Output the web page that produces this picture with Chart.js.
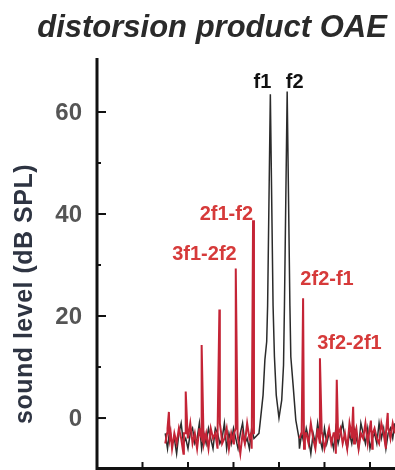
<!DOCTYPE html>
<html>
<head>
<meta charset="utf-8">
<script src="https://cdn.jsdelivr.net/npm/chart.js@4"></script>
<style>
  html, body { margin: 0; padding: 0; background: #fff; }
  canvas { display: block; }
</style>
</head>
<body>
<canvas id="oae" width="395" height="470"></canvas>
<script>
// Spectrum of a distortion product otoacoustic emission (frequency in arbitrary units, level in dB SPL)

const noiseStart = 1.50;
const noiseStep  = 0.05;

// noise floor of the DP recording (null = no floor drawn under the primaries)
const redNoise = [
  -5, -2, -4, -6, -3, -5, -2, -4, -7, -3,
  -4, -1, -5, -3, -6, -2, -4, -5, -3, -6,
  -2, -4, -3, -6, -1, -5, -4, -2, -6, -3,
  -5, -2, -4, -7, -3, -5, -1, -4, -6, -3,
  null, null, null, null, null, null, null, null, null, null,
  null, null, null, null, null, null, null, null, null,
  -4, -2, -6, -3, -5, -1, -4, -6, -2, -5,
  -3, -6, -4, -2, -5, -3, -7, -4, -2, -5,
  -3, -6, -1, -4, -5, -2, -6, -3, -4, -1,
  -5, -3, -6, -2, -4, -5, -1, -3, -6, -2,
  -4, -1, -3
];

// noise floor of the primaries-only recording
const blackNoise = [
  -3, -6, -2, -5, -4, -7, -3, -1, -5, -4,
  -6, -3, -2, -5, -4, -1, -6, -3, -5, -2,
  -4, -6, -2, -3, -5, -4, -1, -6, -3, -5,
  -2, -4, -6, -3, -1, -5, -4, -6, -2, -4,
  null, null, null, null, null, null, null, null, null, null,
  null, null, null, null, null, null, null, null, null,
  -6, -3, -5, -2, -4, -7, -3, -5, -1, -4,
  -6, -2, -5, -3, -4, -6, -2, -5, -3, -1,
  -4, -6, -3, -5, -2, -4, -6, -1, -3, -5,
  -2, -6, -4, -3, -5, -1, -4, -2, -6, -3,
  -2, -4, -1
];

// distortion products (red spikes)
const dpFreq  = [1.58, 1.95, 2.30, 2.69, 3.05, 3.43, 4.53, 4.90, 5.27, 5.63, 6.02, 6.39];
const dpLevel = [1.2, 5.2, 14.3, 21.3, 29.3, 38.8, 23.5, 11.7, 7.5, 2.2, -0.5, 1.0];
const dpBase  = -3;

// primary tones and the skirts around them
const primaryNames = ['f1', 'f2'];
const primaryFreq  = [3.81, 4.18];
const primaryLevel = [63.5, 64];
const skirtFreq  = [3.56, 3.58, 3.65, 3.69, 3.73, 3.75, 3.87, 3.90, 3.94, 4.00, 4.06, 4.10, 4.12, 4.24, 4.26, 4.31, 4.37, 4.44];
const skirtLevel = [-3, -1.4, 4.5, 11.4, 15, 22, 22, 12, 4.5, 0, 3.5, 10.4, 22, 22, 12, 6.5, -0.4, -4];

const yTickLabels = [0, 20, 40, 60];
const yMinorTicks = [10, 30, 50];
const xTicks = [1, 2, 3, 4, 5, 6];

// text labels next to the peaks: [text, x, y, align, color]
const peakLabels = [
  ['f1',      3.44, 64.8, 'left',  '#111'],
  ['f2',      4.15, 64.8, 'left',  '#111'],
  ['2f1-f2',  3.43, 38.9, 'right', '#d63a3a'],
  ['3f1-2f2', 3.07, 31.0, 'right', '#d63a3a'],
  ['2f2-f1',  4.47, 26.0, 'left',  '#d63a3a'],
  ['3f2-2f1', 4.84, 13.5, 'left',  '#d63a3a']
];

function noisePoints(arr) {
  return arr.map((v, i) => ({ x: +(noiseStart + i * noiseStep).toFixed(3), y: v }));
}

function redTrace() {
  const pts = noisePoints(redNoise);
  dpFreq.forEach((f, i) => {
    pts.push({ x: f - 0.04, y: dpBase });
    pts.push({ x: f, y: dpLevel[i] });
    pts.push({ x: f + 0.04, y: dpBase });
  });
  return pts.sort((a, b) => a.x - b.x);
}

function blackTrace() {
  const pts = noisePoints(blackNoise).filter(p => p.y !== null);
  skirtFreq.forEach((f, i) => pts.push({ x: f, y: skirtLevel[i] }));
  primaryFreq.forEach((f, i) => pts.push({ x: f, y: primaryLevel[i] }));
  return pts.sort((a, b) => a.x - b.x);
}

const axisDecor = {
  id: 'axisDecor',
  afterDraw(chart) {
    const { ctx, chartArea: a, scales: { x, y } } = chart;
    ctx.save();
    ctx.strokeStyle = '#111';
    ctx.lineCap = 'butt';

    // axis lines
    ctx.lineWidth = 3;
    ctx.beginPath();
    ctx.moveTo(a.left, 58);
    ctx.lineTo(a.left, a.bottom + 1.5);
    ctx.lineTo(a.right, a.bottom + 1.5);
    ctx.stroke();

    // inward tick marks
    ctx.lineWidth = 2;
    const tick = (v, len) => {
      const py = y.getPixelForValue(v);
      ctx.beginPath();
      ctx.moveTo(a.left, py);
      ctx.lineTo(a.left + len, py);
      ctx.stroke();
    };
    yTickLabels.forEach(v => tick(v, 9));
    yMinorTicks.forEach(v => tick(v, 4));
    xTicks.forEach(v => {
      const px = x.getPixelForValue(v);
      ctx.beginPath();
      ctx.moveTo(px, a.bottom + 1);
      ctx.lineTo(px, a.bottom - 5);
      ctx.stroke();
    });

    // y tick labels
    ctx.fillStyle = '#555';
    ctx.font = 'bold 24px "Liberation Sans", Arial, sans-serif';
    ctx.textAlign = 'right';
    ctx.textBaseline = 'middle';
    yTickLabels.forEach(v => ctx.fillText(String(v), a.left - 15, y.getPixelForValue(v) + 1));

    // title
    ctx.textBaseline = 'alphabetic';
    ctx.fillStyle = '#2a2a2a';
    ctx.font = 'italic bold 31px "Liberation Sans", Arial, sans-serif';
    ctx.textAlign = 'center';
    ctx.fillText('distorsion product OAE', 212, 37);

    // y axis title
    ctx.save();
    ctx.translate(32, 294);
    ctx.rotate(-Math.PI / 2);
    ctx.fillStyle = '#2e3442';
    ctx.font = 'bold 25px "Liberation Sans", Arial, sans-serif';
    ctx.letterSpacing = '0.5px';
    ctx.fillText('sound level (dB SPL)', 0, 0);
    ctx.restore();

    // peak labels
    ctx.font = 'bold 20px "Liberation Sans", Arial, sans-serif';
    peakLabels.forEach(([txt, lx, ly, align, color]) => {
      ctx.fillStyle = color;
      ctx.textAlign = align;
      ctx.fillText(txt, x.getPixelForValue(lx), y.getPixelForValue(ly));
    });
    ctx.restore();
  }
};

new Chart(document.getElementById('oae'), {
  type: 'line',
  data: {
    datasets: [
      {
        label: 'DP',
        data: redTrace(),
        borderColor: '#c42436',
        borderWidth: 2,
        pointRadius: 0,
        tension: 0,
        spanGaps: false
      },
      {
        label: 'primaries',
        data: blackTrace(),
        borderColor: '#2b2b2b',
        borderWidth: 1.5,
        pointRadius: 0,
        tension: 0
      }
    ]
  },
  options: {
    responsive: false,
    animation: false,
    devicePixelRatio: 1,
    layout: { padding: { top: 61, bottom: 3, left: 0, right: 0 } },
    plugins: { legend: { display: false }, tooltip: { enabled: false } },
    scales: {
      x: {
        type: 'linear',
        min: 0,
        max: 6.55,
        ticks: { display: false },
        grid: { display: false, drawTicks: false },
        border: { display: false },
        afterFit: s => { s.height = 0; }
      },
      y: {
        min: -9.6,
        max: 70,
        ticks: { display: false },
        grid: { display: false, drawTicks: false },
        border: { display: false },
        afterFit: s => { s.width = 97; }
      }
    }
  },
  plugins: [axisDecor]
});
</script>
</body>
</html>
